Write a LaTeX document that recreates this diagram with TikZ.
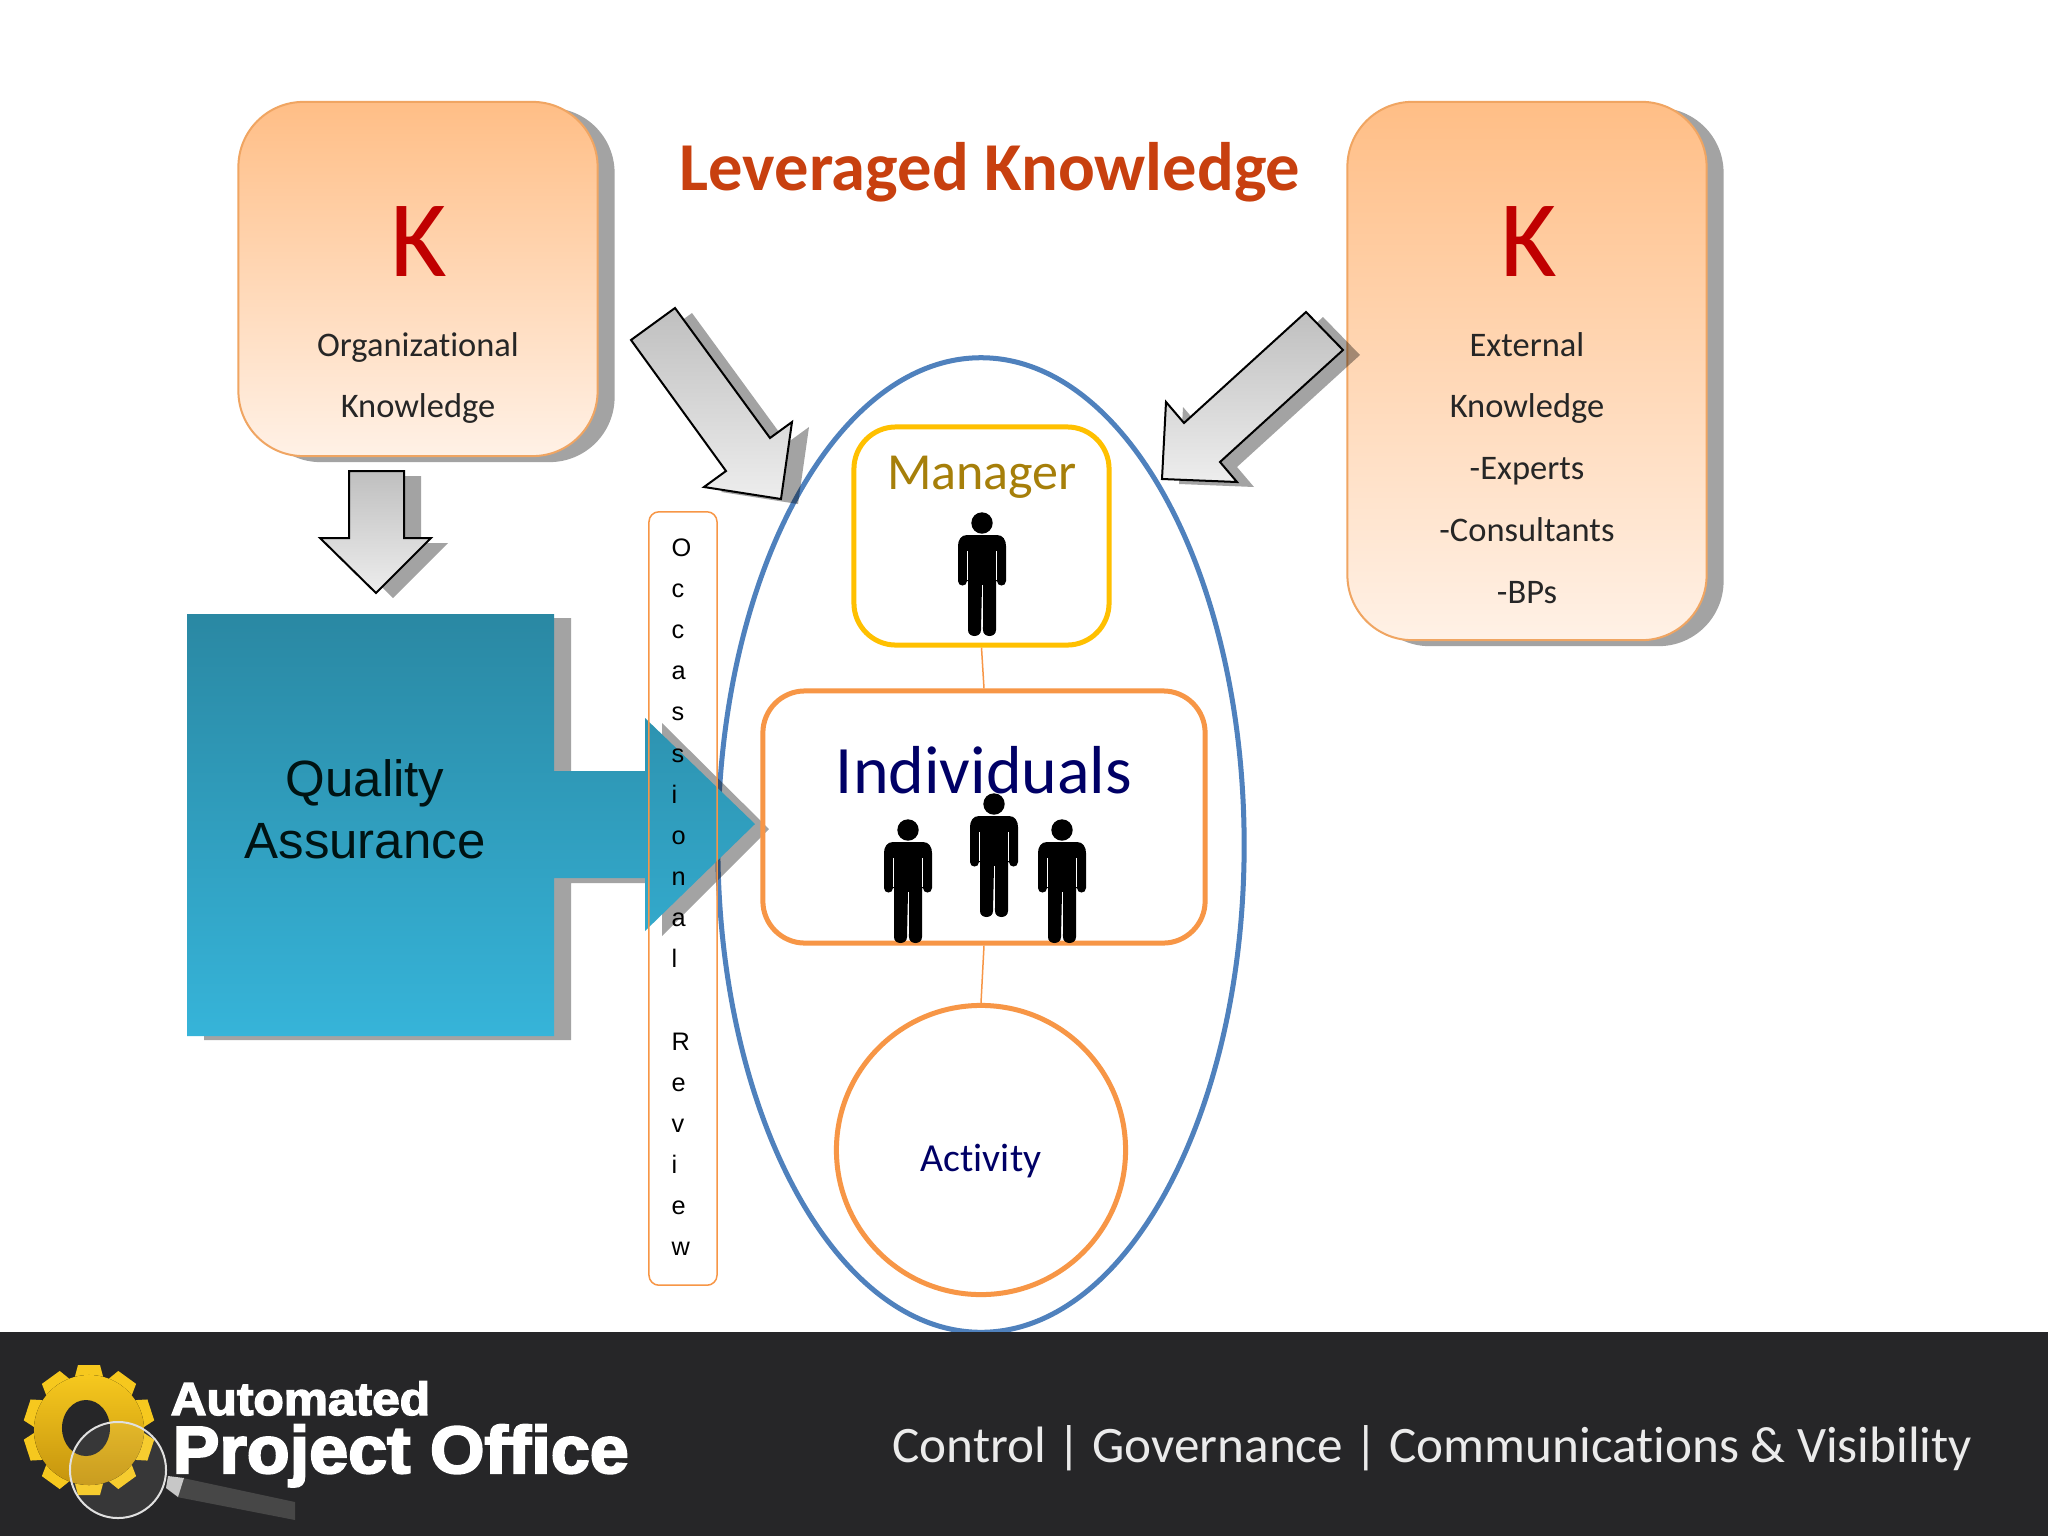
\documentclass[tikz,border=0pt]{standalone}
\usepackage{fontspec}
\setmainfont[Ligatures=NoCommon]{Carlito}
\newfontfamily\arialf{Liberation Sans}
\newfontfamily\logof[FakeBold=3]{Liberation Sans Bold}
\usetikzlibrary{shapes.geometric,positioning}
\definecolor{orangeline}{HTML}{F79646}
\definecolor{orangebox}{HTML}{F0A562}
\definecolor{peachtop}{HTML}{FFBE86}
\definecolor{peachbot}{HTML}{FFF1E6}
\definecolor{bluee}{HTML}{4F81BD}
\definecolor{gold}{HTML}{FFC000}
\definecolor{mgrtext}{HTML}{A67F0A}
\definecolor{navytext}{HTML}{000066}
\definecolor{titlec}{HTML}{C8400F}
\definecolor{kred}{HTML}{C00000}
\definecolor{bantop}{HTML}{262628}
\definecolor{tealtop}{HTML}{2A88A3}
\definecolor{tealbot}{HTML}{36B4D9}
\definecolor{gearA}{HTML}{F6C81E}
\definecolor{gearB}{HTML}{C5940E}
\tikzset{
  x=0.01cm,y=-0.01cm,
  shadowfill/.style={fill=black,fill opacity=.36,draw=none},
  kbox/.style={rectangle,rounded corners=0.65cm,draw=orangebox,line width=0.02cm,top color=peachtop,bottom color=peachbot,inner sep=0pt},
  kshadow/.style={rectangle,rounded corners=0.65cm,shadowfill,inner sep=0pt},
  greyarrow/.style={draw=black,line width=0.02cm,top color=black!25,bottom color=black!7,line join=miter},
  teal/.style={top color=tealtop,bottom color=tealbot,draw=none},
  person/.pic={
    \fill[black] (0,0) circle [radius=0.107cm];
    \fill[black] (0,12) -- (15,12) .. controls (21,12) and (24,17) .. (24,23) -- (24,58)
      .. controls (24,64) and (15,64) .. (15,58) -- (14,58) -- (14,107)
      .. controls (14,115) and (1,115) .. (1,107) -- (0,62) -- (-1,107)
      .. controls (-1,115) and (-14,115) .. (-14,107) -- (-14,58) -- (-15,58)
      .. controls (-15,64) and (-24,64) .. (-24,58) -- (-24,23)
      .. controls (-24,17) and (-21,12) .. (-15,12) -- cycle;
    \draw[white,line width=0.008cm] (14.5,28) -- (14.5,57) (-14.5,28) -- (-14.5,57) (0,62) -- (0,104);
  }
}
\begin{document}
\begin{tikzpicture}
\useasboundingbox (0,0) rectangle (2048,1536);
\fill[white] (0,0) rectangle (2048,1536);
% K boxes
\node[kshadow,minimum width=3.59cm,minimum height=3.54cm] (orgshadow) at (435,285) {};
\node[kbox,minimum width=3.59cm,minimum height=3.54cm] (orgbox) at (418,279) {};
\node[kshadow,minimum width=3.59cm,minimum height=5.38cm] (extshadow) at (1544,377) {};
\node[kbox,minimum width=3.59cm,minimum height=5.38cm] (extbox) at (1527,371) {};
\node[text=kred,font=\fontsize{31}{38}\selectfont] (kleft) at (419,242) {K};
\node[text=kred,font=\fontsize{31}{38}\selectfont] (kright) at (1529,242) {K};
\node[align=center,font=\fontsize{9.8}{17.6}\selectfont,text=black!85] (orgtext) at (418,378) {Organizational\\Knowledge};
\node[align=center,font=\fontsize{9.8}{17.6}\selectfont,text=black!85] (exttext) at (1527,468) {External\\Knowledge\\-Experts\\-Consultants\\-BPs};
\node[text=titlec,font=\bfseries\fontsize{19.5}{24}\selectfont] (title) at (990,172) {Leveraged Knowledge};
% big ellipse
\node[ellipse,draw=bluee,line width=0.05cm,minimum width=5.26cm,minimum height=9.74cm,inner sep=0pt] (oval) at (981,845) {};
% teal block
\fill[shadowfill] (204,618) -- (571,618) -- (571,776) -- (662,776) -- (662,723) -- (769,829) -- (662,936) -- (662,883) -- (571,883) -- (571,1040) -- (204,1040) -- cycle;
\path[teal] (187,614) -- (554,614) -- (554,771) -- (645,771) -- (645,718) -- (755,824) -- (645,931) -- (645,878) -- (554,878) -- (554,1036) -- (187,1036) -- cycle;
\node[align=center,font=\arialf\fontsize{14.5}{17.5}\selectfont,text=black!85!teal] (qa) at (365,809) {Quality\\Assurance};
% down arrow
\fill[shadowfill] (366,476) -- (421,476) -- (421,543) -- (448,543) -- (393,598) -- (337,543) -- (366,543) -- cycle;
\path[greyarrow] (349,471) -- (404,471) -- (404,538) -- (431,538) -- (376,593) -- (320,538) -- (349,538) -- cycle;
% left diagonal
\fill[shadowfill] (692,313) -- (648,345) -- (743,476) -- (721,492) -- (798,504) -- (809,427) -- (787,443) -- cycle;
\path[greyarrow] (675,308) -- (631,340) -- (726,471) -- (704,487) -- (781,499) -- (792,422) -- (770,438) -- cycle;
% right diagonal
\fill[shadowfill] (1323,317) -- (1360,355) -- (1237,467) -- (1254,487) -- (1179,484) -- (1183,407) -- (1201,428) -- cycle;
\path[greyarrow] (1306,312) -- (1343,350) -- (1220,462) -- (1237,482) -- (1162,479) -- (1166,402) -- (1184,423) -- cycle;
% inner boxes
\node[rectangle,rounded corners=0.42cm,draw=gold,line width=0.05cm,minimum width=2.55cm,minimum height=2.18cm,inner sep=0pt] (mgr) at (981.5,536) {};
\node[rectangle,rounded corners=0.42cm,draw=orangeline,line width=0.05cm,minimum width=4.42cm,minimum height=2.52cm,inner sep=0pt] (ind) at (984,817) {};
\node[circle,draw=orangeline,line width=0.05cm,minimum width=2.89cm,inner sep=0pt] (act) at (981,1150) {};
\draw[orangeline,line width=0.015cm] (mgr.south) -- (ind.north);
\draw[orangeline,line width=0.015cm] (ind.south) -- (act.north);
\node[text=mgrtext,font=\fontsize{14.8}{18}\selectfont,anchor=base] (mgrlabel) at (982,489) {Manager};
\node[text=navytext,font=\fontsize{19.3}{23}\selectfont,anchor=base] (indlabel) at (984,793) {Individuals};
\node[text=navytext,font=\fontsize{11.3}{13}\selectfont] (actlabel) at (981,1161) {Activity};
\pic at (982,523) {person};
\pic at (908,830) {person};
\pic at (994,804) {person};
\pic at (1062,830) {person};
% review strip
\node[rectangle,rounded corners=0.1cm,draw=orangeline,line width=0.015cm,minimum width=0.68cm,minimum height=7.73cm,inner sep=0pt] (rev) at (683,898.5) {};
\node[align=left,font=\arialf\fontsize{7.2}{11.7}\selectfont,anchor=north west,inner sep=0pt] (revtext) at (671,538) {O\\c\\c\\a\\s\\s\\i\\o\\n\\a\\l\\\mbox{}\\R\\e\\v\\i\\e\\w};
% banner
\fill[bantop] (0,1332) rectangle (2048,1536);
\node[text=black!8,font=\fontsize{14.55}{17}\selectfont,anchor=east,inner sep=0pt] (tag) at (1973,1448) {Control | Governance | Communications \& Visibility};
% logo gear
\begin{scope}[shift={(89,1430)}]
\foreach \a in {0,36,...,324}{
  \fill[gearA,rotate=\a] (-11,-65) -- (11,-65) -- (15,-50) -- (-15,-50) -- cycle;
}
\fill[top color=gearA,bottom color=gearB] (0,0) circle [radius=0.55cm];
\fill[bantop] (-3,-2) ellipse [x radius=0.24cm,y radius=0.28cm];
\end{scope}
% magnifier
\fill[black!72] (183,1478) -- (295,1502) -- (295,1520) -- (177,1497) -- cycle;
\fill[black!22] (168,1476) -- (184,1478) -- (178,1497) -- (166,1488) -- cycle;
\node[circle,draw=black!12,line width=0.02cm,minimum width=0.96cm,inner sep=0pt,fill=white,fill opacity=.08] (lens) at (118,1470) {};
% logo text
\node[text=white,font=\logof\fontsize{13.2}{16}\selectfont,anchor=base west,inner sep=0pt] (auto) at (170,1415) {\scalebox{1.07}[1]{Automated}};
\node[text=white,font=\logof\fontsize{19}{23}\selectfont,anchor=base west,inner sep=0pt] (po) at (172,1473) {\scalebox{1.05}[1]{Project Office}};
\end{tikzpicture}
\end{document}
